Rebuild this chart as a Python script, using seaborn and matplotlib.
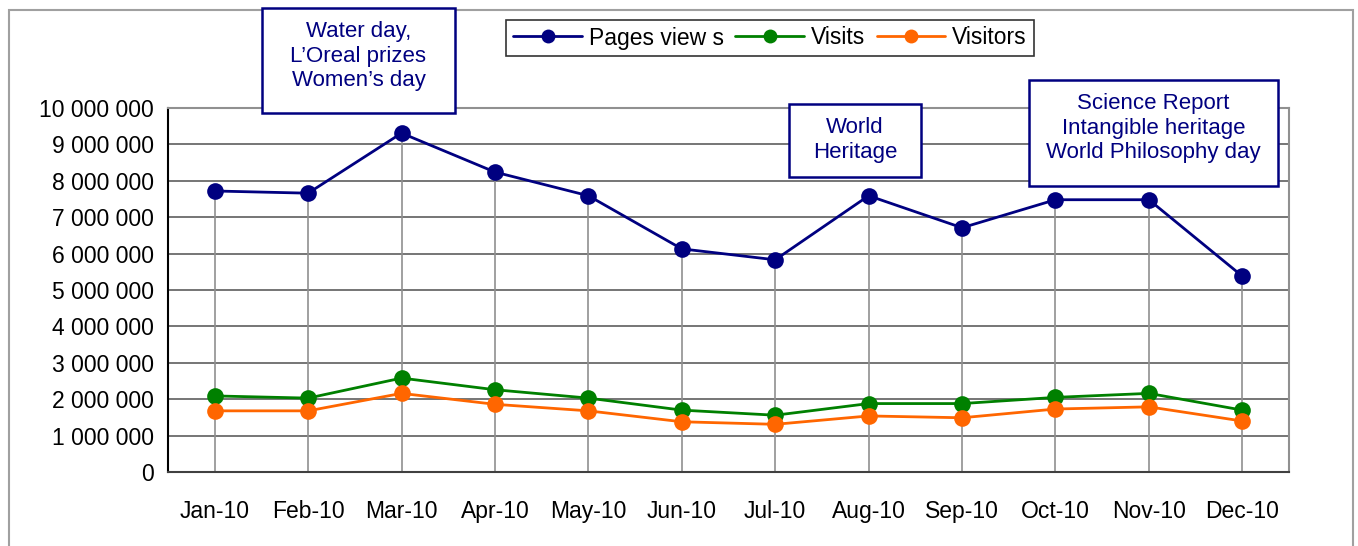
import numpy as np
import pandas as pd
import matplotlib
matplotlib.use("Agg")
import matplotlib.pyplot as plt
from matplotlib.patches import Rectangle
import seaborn as sns

# Monthly web statistics, 2010
months = ["Jan-10", "Feb-10", "Mar-10", "Apr-10", "May-10", "Jun-10",
          "Jul-10", "Aug-10", "Sep-10", "Oct-10", "Nov-10", "Dec-10"]
pages_views = [7720000, 7660000, 9310000, 8240000, 7590000, 6130000,
               5830000, 7590000, 6710000, 7480000, 7480000, 5380000]
visits = [2090000, 2030000, 2580000, 2260000, 2030000, 1700000,
          1560000, 1880000, 1880000, 2050000, 2160000, 1700000]
visitors = [1680000, 1680000, 2160000, 1860000, 1680000, 1380000,
            1310000, 1540000, 1490000, 1730000, 1790000, 1400000]
series_names = ["Pages view s", "Visits", "Visitors"]
notes = ["Water day,\nL\u2019Oreal prizes\nWomen\u2019s day",
         "World\nHeritage",
         "Science Report\nIntangible heritage\nWorld Philosophy day"]

colors = {"Pages view s": "#000080", "Visits": "#008000", "Visitors": "#FF6600"}

df = pd.DataFrame({
    "x": list(range(len(months))) * 3,
    "value": pages_views + visits + visitors,
    "series": np.repeat(series_names, len(months)),
})

sns.set_style("white")
plt.rcParams["font.family"] = ["Liberation Sans", "DejaVu Sans"]
plt.rcParams["text.color"] = "black"

fig = plt.figure(figsize=(13.58, 5.46), dpi=100)
ax = fig.add_axes([168 / 1358, 1 - 472 / 546, (1289 - 168) / 1358, (472 - 108) / 546])

# drop lines from the page views down to the axis
ax.vlines(range(len(months)), 0, pages_views, color="#909090", lw=1.2, zorder=1)

sns.lineplot(data=df, x="x", y="value", hue="series", palette=colors,
             marker="o", markersize=12, markeredgewidth=0, linewidth=2,
             ax=ax, zorder=3)

ax.set_xlim(-0.5, len(months) - 0.5)
ax.set_ylim(0, 10000000)
ax.set_yticks(np.arange(0, 10000001, 1000000))
ax.yaxis.set_major_formatter(plt.FuncFormatter(lambda v, p: f"{int(v):,}".replace(",", " ")))
ax.set_xticks(range(len(months)))
ax.set_xticklabels(months)
ax.set_xticks(np.arange(-0.5, len(months), 1), minor=True)
ax.tick_params(axis="x", which="major", length=0, pad=20, labelsize=16.5, labelcolor="black")
ax.tick_params(axis="x", which="minor", length=6, width=1.2, color="#404040")
ax.tick_params(axis="y", length=6, width=1.2, color="#404040", pad=4, labelsize=16.5,
               labelcolor="black")
ax.set_xlabel("")
ax.set_ylabel("")
ax.yaxis.grid(True, color="#505050", lw=1.1, zorder=0)
ax.xaxis.grid(False)
for side in ["top", "right"]:
    ax.spines[side].set_color("#909090")
    ax.spines[side].set_linewidth(1.5)
ax.spines["left"].set_color("#000000")
ax.spines["bottom"].set_color("#404040")
for side in ["left", "bottom"]:
    ax.spines[side].set_linewidth(1.5)

handles, labels = ax.get_legend_handles_labels()
ax.get_legend().remove()
for h in handles:
    h.set_markersize(10)
leg = fig.legend(handles, labels, loc="center", bbox_to_anchor=(770 / 1358, 1 - 38 / 546),
                 ncol=3, frameon=True, fancybox=False, fontsize=16.5, handlelength=3,
                 columnspacing=0.5, handletextpad=0.3, borderpad=0.3)
leg.get_frame().set_edgecolor("#000000")
leg.get_frame().set_linewidth(1.2)

# outer chart border
fig.patches.append(Rectangle((9 / 1358, -0.05), (1353 - 9) / 1358, 1 - 10 / 546 + 0.05,
                             transform=fig.transFigure, fill=False,
                             edgecolor="#a0a0a0", lw=1.5))

# event boxes
boxes = [(262, 8, 455, 113), (789, 104, 921, 177), (1029, 80, 1278, 186)]
for (x0, y0, x1, y1), txt in zip(boxes, notes):
    fig.patches.append(Rectangle((x0 / 1358, 1 - y1 / 546), (x1 - x0) / 1358, (y1 - y0) / 546,
                                 transform=fig.transFigure, facecolor="white",
                                 edgecolor="#000080", lw=1.8, zorder=5))
    fig.text((x0 + x1) / 2 / 1358, 1 - (y0 + 13) / 546, txt, ha="center", va="top",
             color="#000080", fontsize=16, linespacing=1.22, zorder=6)

fig.savefig("out.png", dpi=100)
